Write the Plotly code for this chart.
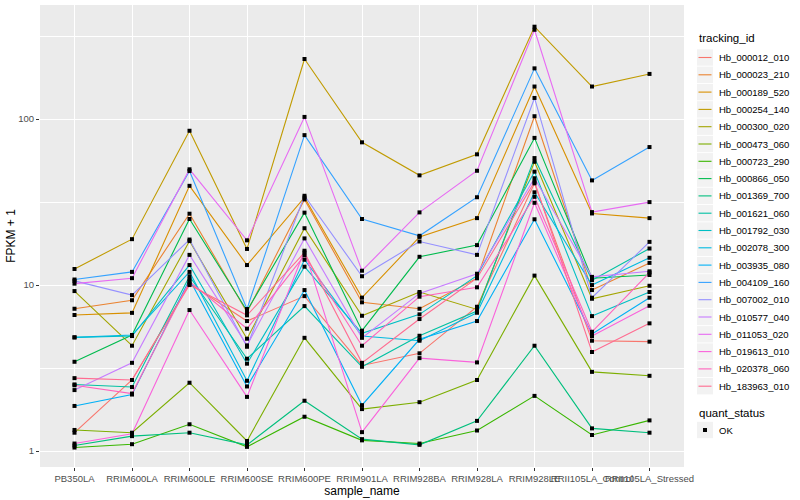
import plotly.graph_objects as go

samples = ["PB350LA", "RRIM600LA", "RRIM600LE", "RRIM600SE", "RRIM600PE", "RRIM901LA",
           "RRIM928BA", "RRIM928LA", "RRIM928LE", "RRII105LA_Control", "RRII105LA_Stressed"]

tracking_ids = ["Hb_000012_010", "Hb_000023_210", "Hb_000189_520", "Hb_000254_140", "Hb_000300_020",
                "Hb_000473_060", "Hb_000723_290", "Hb_000866_050", "Hb_001369_700", "Hb_001621_060",
                "Hb_001792_030", "Hb_002078_300", "Hb_003935_080", "Hb_004109_160", "Hb_007002_010",
                "Hb_010577_040", "Hb_011053_020", "Hb_019613_010", "Hb_020378_060", "Hb_183963_010"]

colors = ["#F8766D", "#EA8331", "#D89000", "#C09B00", "#A3A500", "#7CAE00", "#39B600", "#00BB4E",
          "#00BF7D", "#00C1A3", "#00BFC4", "#00BAE0", "#00B0F6", "#35A2FF", "#9590FF", "#C77CFF",
          "#E76BF3", "#FA62DB", "#FF62BC", "#FF6C91"]

# FPKM + 1 per sample
hb_000012_010 = [1.29, 2.68, 10.2, 6.07, 8.58, 3.28, 3.88, 7.4, 41, 4.62, 4.56]
hb_000023_210 = [7.2, 8.1, 26.9, 6.85, 32.8, 7.87, 7.2, 11.0, 104, 9.33, 13.6]
hb_000189_520 = [6.6, 6.8, 39.6, 13.2, 33.7, 8.4, 19.5, 25.3, 157, 27.0, 25.3]
hb_000254_140 = [12.5, 18.9, 85, 16.5, 230, 72.4, 45.8, 61.3, 360, 157, 187]
hb_000300_020 = [9.2, 4.31, 18.4, 4.75, 22.0, 6.53, 9.08, 7.13, 55.3, 8.27, 9.9]
hb_000473_060 = [1.34, 1.29, 2.58, 1.15, 4.81, 1.79, 1.97, 2.68, 11.4, 3.0, 2.84]
hb_000723_290 = [1.05, 1.10, 1.45, 1.06, 1.61, 1.16, 1.11, 1.33, 2.15, 1.25, 1.53]
hb_000866_050 = [3.45, 5.0, 25.0, 7.0, 27.3, 5.31, 14.8, 17.4, 77, 11.0, 11.5]
hb_001369_700 = [1.08, 1.23, 1.29, 1.09, 2.01, 1.18, 1.09, 1.52, 4.31, 1.37, 1.29]
hb_001621_060 = [2.52, 2.43, 11.3, 3.60, 7.47, 3.22, 4.95, 6.97, 58.2, 10.7, 16.6]
hb_001792_030 = [4.84, 4.93, 13.2, 3.36, 12.9, 5.12, 6.66, 11.4, 48.2, 6.5, 9.08]
hb_002078_300 = [4.84, 5.0, 12.0, 2.65, 14.2, 4.93, 4.62, 6.81, 36.2, 10.0, 14.6]
hb_003935_080 = [1.87, 2.19, 10.8, 2.45, 9.33, 1.89, 4.71, 6.07, 24.9, 5.07, 8.39]
hb_004109_160 = [10.8, 12.0, 48.6, 7.17, 80, 25, 19.8, 33.8, 202, 42.7, 67.8]
hb_007002_010 = [10.6, 8.7, 18.8, 4.25, 34.5, 11.3, 18.3, 15.2, 134, 8.39, 18.2]
hb_010577_040 = [2.33, 3.40, 15.2, 4.33, 19.1, 4.81, 8.91, 11.7, 44, 11.2, 12.1]
hb_011053_020 = [10.2, 11.0, 49.8, 18.6, 103, 12.2, 27.4, 48.8, 345, 27.5, 31.6]
hb_019613_010 = [1.11, 1.27, 7.07, 2.12, 16.1, 1.30, 3.63, 3.42, 31.3, 4.93, 7.5]
hb_020378_060 = [2.49, 2.22, 10.5, 5.46, 15.1, 4.31, 8.51, 9.69, 34, 5.23, 11.9]
hb_183963_010 = [2.75, 2.68, 10.0, 6.57, 15.7, 3.40, 6.24, 11.0, 41.9, 3.95, 5.88]

series = [hb_000012_010, hb_000023_210, hb_000189_520, hb_000254_140, hb_000300_020,
          hb_000473_060, hb_000723_290, hb_000866_050, hb_001369_700, hb_001621_060,
          hb_001792_030, hb_002078_300, hb_003935_080, hb_004109_160, hb_007002_010,
          hb_010577_040, hb_011053_020, hb_019613_010, hb_020378_060, hb_183963_010]

quant_status = ["OK"]

y_ticks = [1, 10, 100]
y_minor = [10 ** -0.5, 10 ** 0.5, 10 ** 1.5, 10 ** 2.5]

FONT = "Liberation Sans, Arial, sans-serif"
W, H = 800, 500
ML, MR, MT, MB = 40, 116, 5, 33
PW, PH = W - ML - MR, H - MT - MB


def px(x):
    return (x - ML) / PW


def py(y):
    return (H - MB - y) / PH


fig = go.Figure()
for tid, col, vals in zip(tracking_ids, colors, series):
    fig.add_trace(go.Scatter(x=samples, y=vals, mode="lines", name=tid,
                             line=dict(color=col, width=1.1), showlegend=False,
                             hoverinfo="skip"))

all_x, all_y = [], []
for vals in series:
    all_x += samples
    all_y += vals
fig.add_trace(go.Scatter(x=all_x, y=all_y, mode="markers", name=quant_status[0],
                         marker=dict(color="black", symbol="square", size=4),
                         showlegend=False, hoverinfo="skip"))

# ---- ggplot-style legends (keys + real text) ----
shapes, annots = [], []
LX0, LX1, TX = 697, 713, 717
annots.append(dict(text="tracking_id", x=px(LX0), y=py(38), xref="paper", yref="paper",
                   xanchor="left", yanchor="middle", showarrow=False,
                   font=dict(size=11.5, color="black", family=FONT)))
for i, (tid, col) in enumerate(zip(tracking_ids, colors)):
    yc = 57.5 + i * 17.3
    shapes.append(dict(type="rect", xref="paper", yref="paper", x0=px(LX0), x1=px(LX1),
                       y0=py(yc + 8.2), y1=py(yc - 8.2), fillcolor="#F2F2F2",
                       line=dict(width=0), layer="above"))
    shapes.append(dict(type="line", xref="paper", yref="paper", x0=px(LX0 + 1.5), x1=px(LX1 - 1.5),
                       y0=py(yc), y1=py(yc), line=dict(color=col, width=1.1), layer="above"))
    annots.append(dict(text=tid, x=px(TX), y=py(yc), xref="paper", yref="paper",
                       xanchor="left", yanchor="middle", showarrow=False,
                       font=dict(size=9.5, color="black", family=FONT)))

annots.append(dict(text="quant_status", x=px(LX0), y=py(413), xref="paper", yref="paper",
                   xanchor="left", yanchor="middle", showarrow=False,
                   font=dict(size=11.5, color="black", family=FONT)))
shapes.append(dict(type="rect", xref="paper", yref="paper", x0=px(LX0), x1=px(LX1),
                   y0=py(430 + 8.2), y1=py(430 - 8.2), fillcolor="#F2F2F2",
                   line=dict(width=0), layer="above"))
shapes.append(dict(type="rect", xref="paper", yref="paper", x0=px(703), x1=px(707),
                   y0=py(432), y1=py(428), fillcolor="black",
                   line=dict(width=0), layer="above"))
annots.append(dict(text=quant_status[0], x=px(TX), y=py(430), xref="paper", yref="paper",
                   xanchor="left", yanchor="middle", showarrow=False,
                   font=dict(size=9.5, color="black", family=FONT)))

fig.update_layout(
    width=W, height=H,
    margin=dict(l=ML, r=MR, t=MT, b=MB, autoexpand=False),
    paper_bgcolor="white", plot_bgcolor="#EBEBEB",
    font=dict(family=FONT, size=10, color="#4D4D4D"),
    showlegend=False,
    shapes=shapes, annotations=annots,
)

fig.update_xaxes(type="category", range=[-0.6, 10.6], showgrid=True, gridcolor="white",
                 gridwidth=1.1, zeroline=False, ticks="outside", ticklen=3,
                 tickcolor="#333333", tickfont=dict(size=9.5, color="#4D4D4D"),
                 tickangle=0, automargin=False,
                 title=dict(text="sample_name", font=dict(size=12, color="black"), standoff=0),
                 showline=False)
fig.update_yaxes(type="log", range=[-0.096, 2.687], tickvals=y_ticks,
                 ticktext=[str(t) for t in y_ticks], showgrid=True, gridcolor="white",
                 gridwidth=1.1, zeroline=False, ticks="outside", ticklen=3,
                 tickcolor="#333333", tickfont=dict(size=9.5, color="#4D4D4D"),
                 minor=dict(tickvals=y_minor, showgrid=True, gridcolor="white",
                            gridwidth=0.5, ticks=""),
                 automargin=False,
                 title=dict(text="FPKM + 1", font=dict(size=12, color="black"), standoff=0),
                 showline=False)

fig.write_html("out.html", config={"displayModeBar": False},
               post_script="document.body.style.margin='0';document.body.style.padding='0';")
